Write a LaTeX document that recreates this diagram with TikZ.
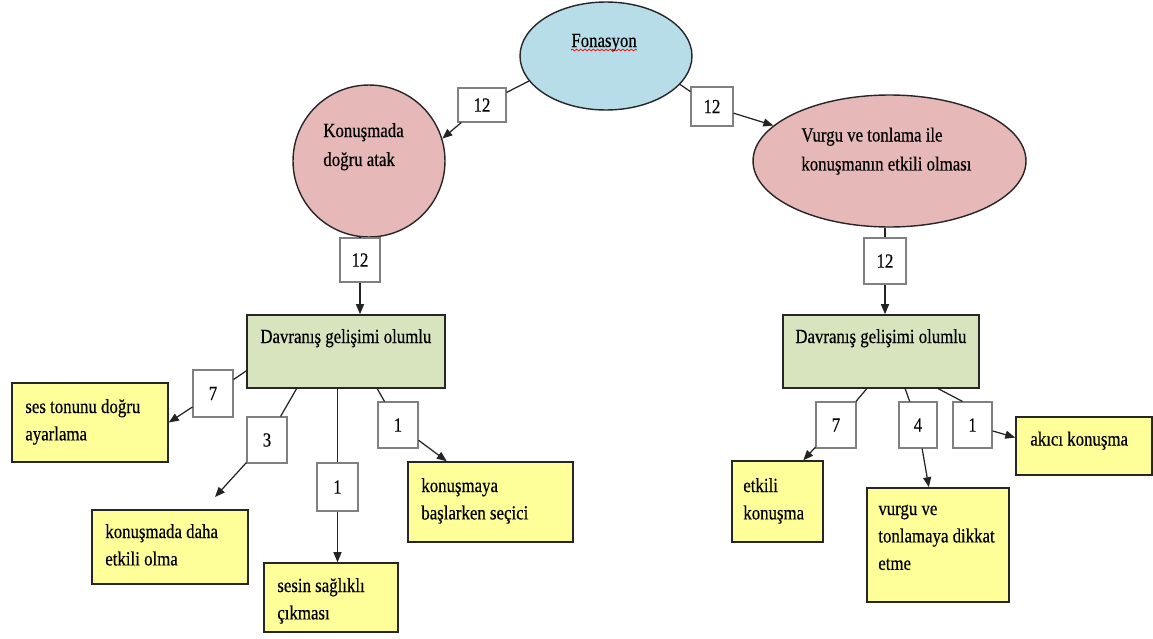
\documentclass[tikz,border=0pt]{standalone}
\usepackage{fontspec}
\setmainfont[FakeStretch=0.84,FakeBold=0.4]{Liberation Serif}
\usetikzlibrary{arrows.meta,calc,shapes.geometric,decorations.pathmorphing}
\definecolor{fonblue}{RGB}{183,221,232}
\definecolor{konpink}{RGB}{230,185,184}
\definecolor{davgreen}{RGB}{215,228,189}
\definecolor{noteyellow}{RGB}{255,255,153}
\definecolor{numgray}{RGB}{128,128,128}
\definecolor{linegray}{RGB}{35,35,35}
\newcommand{\mylines}[1]{\begin{tabular}[t]{@{}l@{}}#1\end{tabular}}
\begin{document}
\begin{tikzpicture}[x=0.02cm,y=-0.02cm,
  txt/.style={font=\fontsize{11.4}{15.6}\selectfont, inner sep=0, anchor=base west},
  ovaltxt/.style={font=\fontsize{11.4}{16.5}\selectfont, inner sep=0, anchor=base west},
  oval/.style={ellipse, draw=black!85, line width=0.8pt, inner sep=0},
  greenbox/.style={rectangle, draw=black!85, fill=davgreen, line width=0.9pt, inner sep=0},
  notebox/.style={rectangle, draw=black!85, fill=noteyellow, line width=0.9pt, inner sep=0},
  numbox/.style={rectangle, draw=numgray, fill=white, line width=0.6pt, inner sep=0, font=\fontsize{11.4}{14}\selectfont},
  conn/.style={draw=linegray, line width=0.7pt},
  arr/.style={conn, -{Triangle[length=0.2cm,width=0.16cm]}},
]
\fill[white] (0,0) rectangle (1153,639);
\useasboundingbox (0,0) rectangle (1153,639);

% ellipses
\node[oval, fill=fonblue, minimum width=3.44cm, minimum height=2.16cm] (fon) at (606,56) {};
\node[oval, fill=konpink, minimum width=3.04cm, minimum height=3.04cm] (kon) at (369,161) {};
\node[oval, fill=konpink, minimum width=5.46cm, minimum height=2.64cm] (vur) at (889.5,161) {};

% green boxes
\node[greenbox, minimum width=3.96cm, minimum height=1.46cm] (lg) at (346,351.5) {};
\node[greenbox, minimum width=3.92cm, minimum height=1.46cm] (rg) at (881,351.5) {};

% yellow boxes
\node[notebox, minimum width=3.12cm, minimum height=1.58cm] (ses) at (90,422.5) {};
\node[notebox, minimum width=3.12cm, minimum height=1.48cm] (kd) at (170,547) {};
\node[notebox, minimum width=2.68cm, minimum height=1.38cm] (sc) at (331,597.5) {};
\node[notebox, minimum width=3.3cm, minimum height=1.6cm] (kb) at (490.5,502) {};
\node[notebox, minimum width=1.82cm, minimum height=1.62cm] (ek) at (777.5,501.5) {};
\node[notebox, minimum width=2.84cm, minimum height=2.28cm] (vt) at (938,545) {};
\node[notebox, minimum width=2.72cm, minimum height=1.16cm] (ak) at (1084,446) {};

% number boxes
\node[numbox, minimum width=0.96cm, minimum height=0.68cm] (l1) at (482,105) {12};
\node[numbox, minimum width=0.84cm, minimum height=0.78cm] (r12) at (712,106.5) {12};
\node[numbox, minimum width=0.8cm, minimum height=0.88cm] (lv12) at (360,260) {12};
\node[numbox, minimum width=0.84cm, minimum height=0.92cm] (rv12) at (885,261) {12};
\node[numbox, minimum width=0.8cm, minimum height=0.94cm] (lb7) at (213,393.5) {7};
\node[numbox, minimum width=0.8cm, minimum height=0.92cm] (lb3) at (267,440) {3};
\node[numbox, minimum width=0.82cm, minimum height=0.96cm] (lm1) at (337.5,487) {1};
\node[numbox, minimum width=0.8cm, minimum height=0.92cm] (lr1) at (398,425) {1};
\node[numbox, minimum width=0.8cm, minimum height=0.92cm] (rb7) at (836,425) {7};
\node[numbox, minimum width=0.76cm, minimum height=0.92cm] (rb4) at (918,425) {4};
\node[numbox, minimum width=0.78cm, minimum height=0.92cm] (rb1) at (972.5,425) {1};

% texts
\node[txt] (tfon) at (571,47) {Fonasyon};
\draw[red, line width=0.4pt, decorate, decoration={snake, amplitude=0.5pt, segment length=2.4pt}]
  ($(tfon.base west)+(0,3)$) -- ($(tfon.base east)+(0,3)$);
\node[ovaltxt] (tkon) at (323,137) {\mylines{Konuşmada\\doğru atak}};
\node[ovaltxt] (tvur) at (801,141.5) {\mylines{Vurgu ve tonlama ile\\konuşmanın etkili olması}};
\node[txt] (tlg) at (260,343) {Davranış gelişimi olumlu};
\node[txt] (trg) at (795,343) {Davranış gelişimi olumlu};
\node[txt] (tses) at (25,413) {\mylines{ses tonunu doğru\\ayarlama}};
\node[txt] (tkd) at (105,538) {\mylines{konuşmada daha\\etkili olma}};
\node[txt] (tsc) at (277,592) {\mylines{sesin sağlıklı\\çıkması}};
\node[txt] (tkb) at (421,492) {\mylines{konuşmaya\\başlarken seçici}};
\node[txt] (tek) at (743,492) {\mylines{etkili\\konuşma}};
\node[txt] (tvt) at (878,515) {\mylines{vurgu ve\\tonlamaya dikkat\\etme}};
\node[txt] (tak) at (1030,445.5) {akıcı konuşma};

\coordinate (t3) at (215,497);

% connectors
\draw[conn] (fon.198) -- (l1);
\draw[arr] (l1) -- (kon.17);
\draw[conn] (fon.339) -- (r12);
\draw[arr] (r12) -- (vur.163);
\draw[conn] (lv12.north |- kon.south) -- (lv12.north);
\draw[arr] (lv12.south) -- (lv12.south |- lg.north);
\draw[conn] (rv12.north |- vur.south) -- (rv12.north);
\draw[arr] (rv12.south) -- (rv12.south |- rg.north);

\draw[conn] (lg.191) -- (lb7);
\draw[arr] (lb7) -- (ses.east);
\draw[conn] (lg.217) -- (lb3);
\draw[arr] (lb3) -- (t3);
\draw[conn] (lm1.north |- lg.south) -- (lm1.north);
\draw[arr] (lm1.south) -- (lm1.south |- sc.north);
\draw[conn] (lg.310) -- (lr1);
\draw[arr] (lr1) -- (kb.137);

\draw[conn] (rg.249) -- (rb7);
\draw[arr] (rb7) -- (ek.58);
\draw[conn] (rg.303) -- (rb4);
\draw[arr] (rb4) -- (vt.99);
\draw[conn] (rg.327) -- ($(rb1.north west)!0.25!(rb1.north east)$);
\draw[arr] (rb1) -- (ak.173);
\end{tikzpicture}
\end{document}
